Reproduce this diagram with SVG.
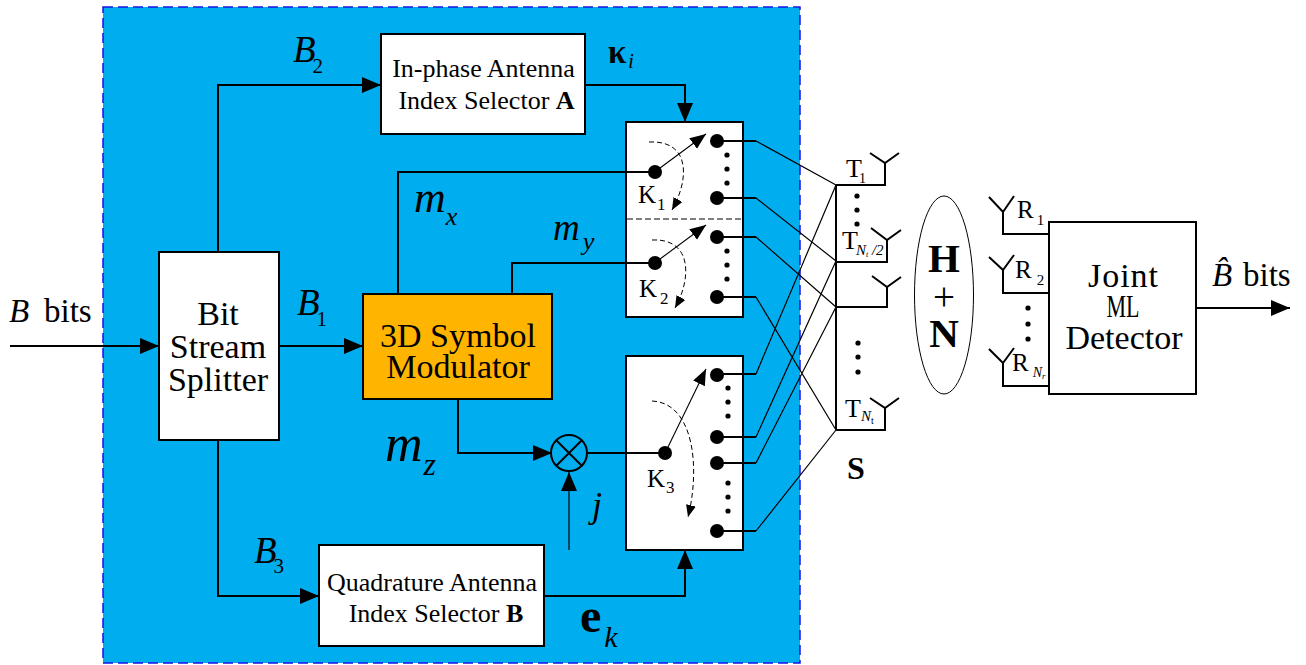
<svg xmlns="http://www.w3.org/2000/svg" width="1306" height="665" viewBox="0 0 1306 665">
<defs>
<marker id="arr" markerUnits="userSpaceOnUse" markerWidth="20" markerHeight="18" refX="19" refY="8" orient="auto"><path d="M0 0L19 8L0 16Z" fill="#000"/></marker>
<marker id="sw" markerUnits="userSpaceOnUse" markerWidth="18" markerHeight="16" refX="16" refY="6.5" orient="auto"><path d="M0 0L16 6.5L0 13Z" fill="#000"/></marker>
<marker id="da" markerUnits="userSpaceOnUse" markerWidth="14" markerHeight="12" refX="12" refY="5" orient="auto"><path d="M0 0L12 5L0 10Z" fill="#000"/></marker>
</defs>
<style>
text{font-family:"Liberation Serif","Times New Roman",serif;fill:#000}
.box{fill:#fff;stroke:#000;stroke-width:2}
.w{fill:none;stroke:#000;stroke-width:2}
.a{fill:none;stroke:#000;stroke-width:2;marker-end:url(#arr)}
.t{fill:none;stroke:#000;stroke-width:1.2}
.s{fill:none;stroke:#000;stroke-width:1.1;marker-end:url(#sw)}
.d{fill:none;stroke:#000;stroke-width:1;stroke-dasharray:5 3;marker-end:url(#da)}
.i{font-style:italic}
.b{font-weight:bold}
.m{text-anchor:middle}
</style>
<rect id="bg" x="103" y="7" width="697" height="656" fill="#00AEEF" stroke="#1414E6" stroke-width="1.5" stroke-dasharray="10 5"/>

<g id="splitter"><rect class="box" x="159" y="252" width="120" height="188"/>
<text class="m" x="218" y="325" font-size="34">Bit</text><text class="m" x="218" y="358" font-size="34">Stream</text><text class="m" x="218" y="391" font-size="34">Splitter</text></g>

<g id="modulator"><rect x="363" y="294" width="189" height="105" fill="#FFB400" stroke="#000" stroke-width="2"/>
<text class="m" x="458" y="347" font-size="34">3D Symbol</text><text class="m" x="458" y="378" font-size="34">Modulator</text></g>

<g id="selA"><rect class="box" x="381" y="34" width="204" height="100"/>
<text class="m" x="483.5" y="77" font-size="26">In-phase Antenna</text><text class="m" x="486.5" y="109" font-size="26">Index Selector <tspan class="b">A</tspan></text></g>

<g id="selB"><rect class="box" x="319" y="545" width="225" height="101"/>
<text class="m" x="432" y="591" font-size="26">Quadrature Antenna</text><text class="m" x="436" y="622" font-size="26">Index Selector <tspan class="b">B</tspan></text></g>

<g id="switch12"><rect class="box" x="626" y="122" width="117" height="195"/>
<path d="M627 219H741" fill="none" stroke="#000" stroke-width="1" stroke-dasharray="6 3"/>
<circle cx="655" cy="172" r="7"/><circle cx="717" cy="141" r="7"/><circle cx="717" cy="198" r="7"/>
<circle cx="727" cy="155" r="2.6"/><circle cx="727" cy="169" r="2.6"/><circle cx="727" cy="183" r="2.6"/>
<path class="s" d="M660 168L706 134"/>
<path class="d" d="M649 142C690 140 690 178 672 210"/>
<text x="638" y="203" font-size="25">K<tspan font-size="17" dy="7" dx="1">1</tspan></text>
<circle cx="655" cy="263" r="7"/><circle cx="717" cy="237" r="7"/><circle cx="717" cy="297" r="7"/>
<circle cx="727" cy="251" r="2.6"/><circle cx="727" cy="265" r="2.6"/><circle cx="727" cy="279" r="2.6"/>
<path class="s" d="M660 259L706 225"/>
<path class="d" d="M652 240C692 238 692 278 675 308"/>
<text x="639" y="297" font-size="25">K<tspan font-size="17" dy="7" dx="3">2</tspan></text></g>

<g id="switch3"><rect class="box" x="626" y="356" width="117" height="194"/>
<circle cx="665" cy="453" r="7"/><circle cx="717" cy="375" r="7"/><circle cx="717" cy="437" r="7"/><circle cx="717" cy="463" r="7"/><circle cx="717" cy="531" r="7"/>
<circle cx="728" cy="388" r="2.6"/><circle cx="728" cy="402" r="2.6"/><circle cx="728" cy="416" r="2.6"/>
<circle cx="728" cy="483" r="2.6"/><circle cx="728" cy="497" r="2.6"/><circle cx="728" cy="511" r="2.6"/>
<path class="s" d="M668 447L706 369"/>
<path class="d" d="M652 401C695 403 700 470 688 517"/>
<text x="647" y="487" font-size="25">K<tspan font-size="17" dy="6" dx="1">3</tspan></text></g>

<g id="mixer"><circle cx="569" cy="453" r="18" fill="none" stroke="#000" stroke-width="2"/><path class="w" d="M556 440L582 466M582 440L556 466"/></g>

<g id="tx"><path class="w" d="M836 185V430M836 185H885V163M870 153L885 163L899 153M836 262H887V240M871 228L887 240L901 230M836 307H887V287M872 276L887 287L901 277M836 430H885V408M870 398L885 408L899 398"/>
<circle cx="857" cy="196" r="2.6"/><circle cx="857" cy="210" r="2.6"/><circle cx="857" cy="224" r="2.6"/>
<circle cx="858" cy="343" r="2.6"/><circle cx="858" cy="357" r="2.6"/><circle cx="858" cy="372" r="2.6"/>
<text x="846" y="177" font-size="26">T<tspan font-size="14" dy="6" dx="-3">1</tspan></text>
<text x="842" y="249" font-size="26">T<tspan font-size="15" dy="6" dx="-2" class="i">N<tspan font-size="8" dy="2">t</tspan><tspan dy="-2"> /2</tspan></tspan></text>
<text x="845" y="417" font-size="26">T<tspan font-size="15" dy="4" class="i">N</tspan><tspan font-size="10" dy="3">t</tspan></text>
<text class="b m" x="856" y="479" font-size="32">S</text></g>

<g id="channel"><ellipse cx="944" cy="295" rx="29.5" ry="99" fill="#fff" stroke="#000" stroke-width="1"/>
<text class="b m" x="944" y="272" font-size="41">H</text><text class="m" x="944" y="310" font-size="39">+</text><text class="b m" x="944" y="347" font-size="41">N</text></g>

<g id="rx"><path class="w" d="M1048 234H1003V212M989 197L1003 212L1014 196M1048 293H1003V270M989 257L1003 270L1014 255M1048 386H1003V363M989 349L1003 363L1014 348"/>
<circle cx="1028" cy="308" r="2.6"/><circle cx="1028" cy="324" r="2.6"/><circle cx="1028" cy="339" r="2.6"/>
<text x="1017" y="218" font-size="25">R<tspan font-size="15" dy="7" dx="3">1</tspan></text>
<text x="1015" y="278" font-size="25">R<tspan font-size="15" dy="7" dx="5">2</tspan></text>
<text x="1012" y="371" font-size="25">R<tspan font-size="14" dy="6" dx="4" class="i">N<tspan font-size="9" dy="2">r</tspan></tspan></text></g>

<g id="detector"><rect class="box" x="1049" y="222" width="147" height="172"/>
<text class="m" x="1123" y="287" font-size="34" textLength="70" lengthAdjust="spacing">Joint</text><text class="m" x="1123" y="317" font-size="32" textLength="33" lengthAdjust="spacingAndGlyphs">ML</text><text class="m" x="1124" y="349" font-size="34">Detector</text></g>

<g id="connectors">
<path class="a" d="M10 346H159"/>
<path class="a" d="M280 346H363"/>
<path class="a" d="M218 252V85H381"/>
<path class="a" d="M218 440V596H319"/>
<path class="a" d="M585 85H685V122"/>
<path class="a" d="M545 596H685V550"/>
<path class="w" d="M398 294V172H655"/>
<path class="w" d="M512 294V263H655"/>
<path class="a" d="M458 399V453H552"/>
<path class="w" d="M588 453H665"/>
<path class="a" d="M569 550V472" style="stroke-width:1.2"/>
<path class="w" d="M716 141H756M716 198H756M716 237H756M716 297H756M716 374H756M716 437H756M716 463H756M716 531H756"/>
<path class="t" d="M756 141L836 185M756 198L836 261M756 237L836 307M756 297L836 430M756 374L836 185M756 437L836 261M756 463L836 307M756 531L836 430"/>
<path class="a" d="M1196 308H1290"/>
</g>

<g id="labels">
<text x="9" y="322" font-size="33" class="i">B</text><text x="44" y="322" font-size="33">bits</text>
<text x="1212" y="286" font-size="33" class="i">B̂</text><text x="1243" y="286" font-size="33">bits</text>
<text class="i" x="293" y="62" font-size="37">B<tspan font-size="21" dy="11" dx="-3" font-style="normal">2</tspan></text>
<text class="i" x="297" y="315" font-size="37">B<tspan font-size="21" dy="11" dx="-3" font-style="normal">1</tspan></text>
<text class="i" x="254" y="563" font-size="37">B<tspan font-size="21" dy="10" dx="-3" font-style="normal">3</tspan></text>
<text x="608" y="63" font-size="33" class="b">κ<tspan class="i" font-size="20" dy="5" dx="2" font-weight="normal">i</tspan></text>
<text class="i" x="414" y="212" font-size="44">m<tspan font-size="26" dy="13">x</tspan></text>
<text class="i" x="553" y="240" font-size="37">m<tspan font-size="26" dy="10" dx="3">y</tspan></text>
<text class="i" x="385" y="461" font-size="52">m<tspan font-size="32" dy="14" dx="1">z</tspan></text>
<text class="i" x="592" y="517" font-size="36">j</text>
<text x="580" y="632" font-size="48" class="b">e<tspan class="i" font-size="30" dy="15" dx="3" font-weight="normal">k</tspan></text>
</g>
</svg>
